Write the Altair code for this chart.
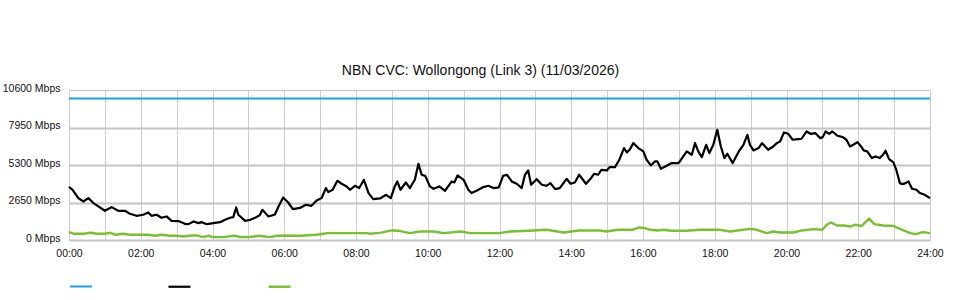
import altair as alt
import pandas as pd

TITLE = "NBN CVC: Wollongong (Link 3) (11/03/2026)"
SERIES = ["Capacity", "Traffic In", "Traffic Out"]
COLORS = ["#1ba1e2", "#000000", "#78c12c"]
Y_TICKS = [0, 2650, 5300, 7950, 10600]
X_TICKS = list(range(0, 25))

capacity_hours = [0, 24]
capacity_mbps = [10000, 10000]

in_hours = [0.0, 0.1, 0.26, 0.4, 0.54, 0.68, 0.86, 1.0, 1.19, 1.37, 1.56, 1.7, 1.88, 2.07, 2.21, 2.3,
            2.44, 2.58, 2.72, 2.86, 3.05, 3.23, 3.33, 3.47, 3.61, 3.7, 3.84, 4.02, 4.21, 4.35, 4.49,
            4.58, 4.66, 4.72, 4.91, 5.05, 5.19, 5.32, 5.39, 5.56, 5.74, 5.84, 5.97, 6.11, 6.24, 6.44,
            6.6, 6.76, 6.9, 7.04, 7.16, 7.23, 7.35, 7.48, 7.6, 7.74, 7.83, 7.97, 8.09, 8.22, 8.35,
            8.48, 8.67, 8.84, 8.97, 9.08, 9.15, 9.24, 9.39, 9.5, 9.64, 9.74, 9.83, 9.93, 10.06, 10.16,
            10.32, 10.48, 10.67, 10.74, 10.83, 11.0, 11.13, 11.22, 11.36, 11.55, 11.69, 11.83, 11.98,
            12.1, 12.21, 12.34, 12.48, 12.62, 12.71, 12.8, 12.88, 13.04, 13.18, 13.31, 13.42, 13.55,
            13.68, 13.87, 13.98, 14.1, 14.22, 14.41, 14.55, 14.64, 14.75, 14.84, 14.99, 15.07, 15.22,
            15.34, 15.47, 15.55, 15.63, 15.73, 15.87, 16.01, 16.1, 16.22, 16.33, 16.4, 16.5, 16.66,
            16.8, 16.99, 17.09, 17.22, 17.36, 17.45, 17.54, 17.64, 17.76, 17.85, 17.96, 18.07, 18.17,
            18.27, 18.35, 18.5, 18.67, 18.8, 18.91, 18.98, 19.08, 19.22, 19.32, 19.49, 19.63, 19.73,
            19.82, 19.93, 20.05, 20.17, 20.33, 20.42, 20.56, 20.67, 20.8, 20.94, 21.01, 21.09, 21.19,
            21.28, 21.42, 21.57, 21.67, 21.77, 21.86, 21.98, 22.08, 22.15, 22.25, 22.38, 22.48, 22.6,
            22.69, 22.76, 22.86, 22.98, 23.06, 23.16, 23.23, 23.32, 23.4, 23.5, 23.62, 23.72, 23.85,
            24.0]
in_mbps = [3750, 3550, 2960, 2720, 2960, 2610, 2300, 2065, 2325, 2065, 2065, 1850, 1710, 1785, 1945, 1710,
           1785, 1570, 1665, 1355, 1335, 1145, 1120, 1310, 1190, 1260, 1120, 1190, 1260, 1430, 1570,
           1615, 2300, 1785, 1355, 1430, 1570, 1760, 2135, 1665, 1805, 2370, 3005, 2650, 2180, 2265,
           2490, 2415, 2795, 2960, 3670, 3385, 3550, 4185, 3975, 3785, 3550, 3830, 3670, 4255, 3315,
           2890, 2935, 3195, 2960, 3785, 4140, 3550, 4065, 3670, 4255, 5385, 4610, 4535, 3785, 3620,
           3785, 3480, 4140, 4065, 4560, 4255, 3550, 3315, 3480, 3740, 3830, 3670, 3715,
           4535, 4610, 4140, 3975, 3670, 4610, 4915, 3905, 4300, 3905, 3830, 4020, 3595,
           3670, 4325, 3975, 4065, 4610, 3975, 4370, 4680, 4610, 4960, 4915, 5150, 5150,
           5670, 6495, 6190, 6375, 6845, 6495, 6260, 5670, 5270, 5550, 5550, 5035, 5245,
           5435, 5435, 5790, 6260, 6025, 6845, 6260, 5860, 6730, 6140, 6730, 7790, 6610,
           5790, 6095, 5435, 6260, 6730, 7435, 6730, 6330, 6495, 6845, 6375, 6610, 6845,
           6965, 7600, 7505, 7085, 7130, 7155, 7670, 7505, 7555, 7200, 7270, 7670, 7505,
           7670, 7365, 7270, 7085, 6610, 6730, 6915, 6610, 6330, 6260, 5790, 5905, 5790,
           6025, 6305, 5715, 5480, 4960, 4020, 3950, 4020, 4140, 3620, 3550, 3315, 3195,
           2960]

out_hours = [0.0, 0.15, 0.4, 0.6, 0.8, 1.0, 1.15, 1.3, 1.5, 1.7, 2.0, 2.2, 2.4, 2.6, 2.8, 3.0, 3.2,
             3.4, 3.6, 3.7, 3.9, 4.0, 4.3, 4.6, 4.8, 5.0, 5.3, 5.6, 5.8, 6.0, 6.44, 6.9, 7.2, 7.4,
             7.8, 8.3, 8.4, 8.7, 9.0, 9.2, 9.5, 9.78, 10.16, 10.45, 10.9, 11.2, 11.6, 12.0, 12.3,
             12.97, 13.3, 13.8, 14.2, 14.8, 14.99, 15.3, 15.7, 15.9, 16.05, 16.2, 16.4, 16.58, 16.77,
             17.2, 17.6, 18.15, 18.43, 18.98, 19.17, 19.45, 19.63, 19.82, 20.2, 20.42, 20.75, 21.0,
             21.12, 21.24, 21.4, 21.6, 21.8, 21.9, 22.1, 22.3, 22.45, 22.7, 22.98, 23.16, 23.45,
             23.6, 23.8, 24.0]
out_mbps = [558, 440, 440, 510, 440, 440, 510, 370, 440, 370, 370, 370, 300, 370, 300, 300, 250,
            320, 320, 200, 300, 200, 200, 300, 200, 200, 300, 200, 300, 320, 300, 370, 485, 485,
            485, 485, 440, 520, 675, 650, 485, 600, 600, 485, 600, 485, 485, 485, 600,
            675, 720, 530, 675, 675, 600, 720, 720, 885, 840, 720, 675, 720, 650,
            650, 720, 720, 600, 790, 720, 485, 600, 530, 530, 675, 770, 720,
            1075, 1235, 1025, 1025, 955, 1075, 1000, 1520, 1120, 1025, 1000, 790, 485,
            415, 555, 485]

frames = []
for name, hrs, vals in [(SERIES[0], capacity_hours, capacity_mbps),
                        (SERIES[1], in_hours, in_mbps),
                        (SERIES[2], out_hours, out_mbps)]:
    frames.append(pd.DataFrame({"hour": hrs, "mbps": vals, "series": name}))
df = pd.concat(frames, ignore_index=True)

FONT = "Liberation Sans"

chart = alt.Chart(df).mark_line(strokeJoin="round").encode(
    x=alt.X("hour:Q",
            scale=alt.Scale(domain=[0, 24], nice=False, zero=False),
            axis=alt.Axis(values=X_TICKS, title=None, ticks=False, domain=False,
                          labelExpr="datum.value % 2 == 0 ? (datum.value < 10 ? '0' : '') + datum.value + ':00' : ''",
                          labelPadding=8, labelFont=FONT, labelFontSize=10.5, labelColor="#111",
                          gridColor="#cfcfcf", gridWidth=1, labelFlush=False, labelOverlap=False)),
    y=alt.Y("mbps:Q",
            scale=alt.Scale(domain=[0, 10600], nice=False),
            axis=alt.Axis(values=Y_TICKS, title=None, ticks=False, domain=False,
                          labelExpr="datum.value + ' Mbps'", labelPadding=9,
                          labelFont=FONT, labelFontSize=10.5, labelColor="#111",
                          labelOffset=-2,
                          gridColor="#c4c4c4",
                          gridWidth={"condition": {"test": "datum.value === 10600", "value": 1}, "value": 2})),
    color=alt.Color("series:N",
                    scale=alt.Scale(domain=SERIES, range=COLORS),
                    legend=alt.Legend(orient="none", legendX=0, legendY=184, direction="horizontal",
                                      title=None, symbolType="stroke", symbolSize=484,
                                      symbolStrokeWidth=2, labelExpr="''", labelOffset=0,
                                      columnPadding=68, padding=0)),
    strokeWidth=alt.StrokeWidth("series:N",
                                scale=alt.Scale(domain=SERIES, range=[2, 2.4, 2.8]),
                                legend=None),
    order=alt.Order("hour:Q"),
).properties(
    width=861,
    height=150,
    title=alt.TitleParams(TITLE, font=FONT, fontSize=14, fontWeight="normal",
                          color="#111", anchor="middle", dx=-19, offset=5),
    autosize=alt.AutoSizeParams(type="none"),
    padding={"left": 69, "top": 90, "right": 30, "bottom": 60},
    background="white",
).configure_view(strokeWidth=0)

chart.save("out.html", embed_options={"renderer": "svg", "actions": False})
